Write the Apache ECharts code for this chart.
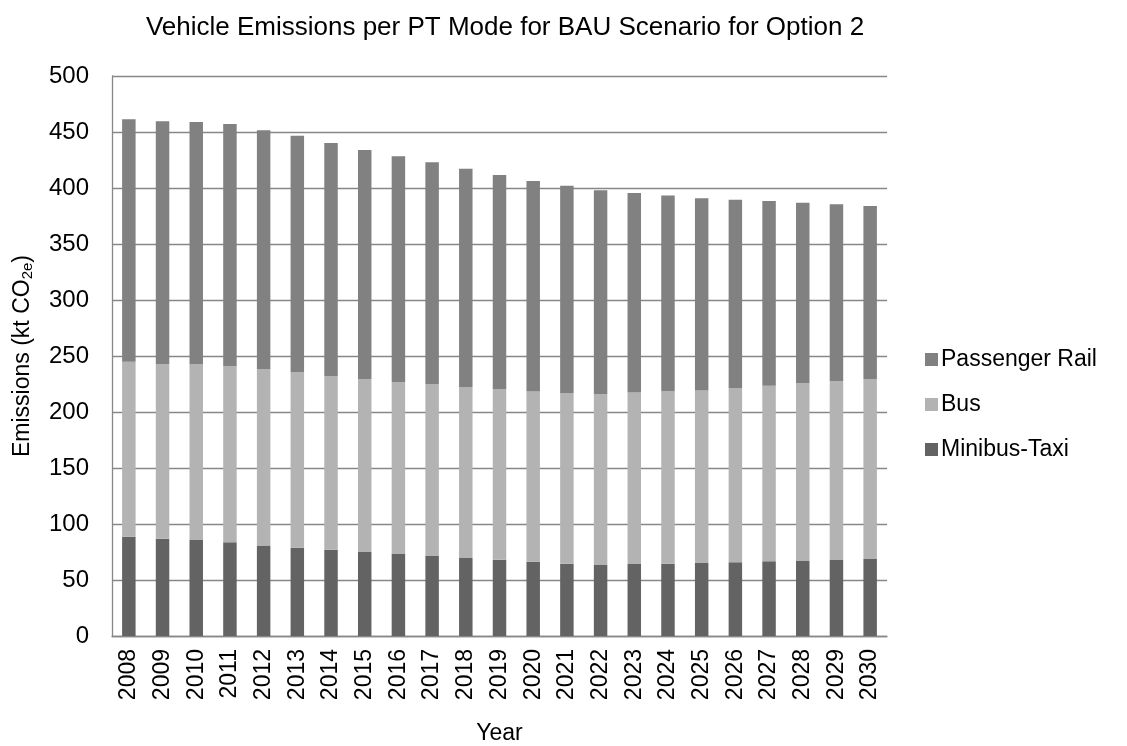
<!DOCTYPE html>
<html>
<head>
<meta charset="utf-8">
<script src="https://cdn.jsdelivr.net/npm/echarts@6/dist/echarts.min.js"></script>
<style>
  html, body { margin: 0; padding: 0; background: #fff; }
  #chart { width: 1127px; height: 746px; }
</style>
</head>
<body>
<div id="chart"></div>
<script>
  const years = ['2008', '2009', '2010', '2011', '2012', '2013', '2014', '2015', '2016', '2017', '2018', '2019',
    '2020', '2021', '2022', '2023', '2024', '2025', '2026', '2027', '2028', '2029', '2030']

  // kt CO2e
  const minibusTaxi = [88.7, 86.9, 85.7, 83.6, 80.7, 78.9, 77.1, 75.0, 73.2, 71.4, 69.6, 68.0,
    66.4, 64.6, 63.4, 64.3, 64.6, 65.2, 65.8, 66.7, 67.0, 67.9, 68.8]
  const bus = [156.2, 156.0, 156.9, 157.2, 157.7, 156.5, 155.0, 154.2, 153.6, 153.6, 152.7, 152.5,
    151.8, 152.4, 152.7, 153.0, 154.2, 154.1, 155.6, 156.8, 158.6, 159.5, 160.7]
  const passengerRail = [216.4, 216.6, 216.3, 216.3, 213.1, 211.3, 208.1, 204.7, 201.5, 197.9, 194.9, 191.1,
    188.1, 185.1, 181.8, 178.2, 174.4, 171.5, 168.2, 164.9, 161.3, 158.1, 154.4]

  const yTicks = { min: 0, max: 500, interval: 50 }

  const font = 'Liberation Sans, Arial, sans-serif'

  const chart = echarts.init(document.getElementById('chart'))

  chart.setOption({
    animation: false,
    textStyle: { fontFamily: font, color: '#000' },
    title: {
      text: 'Vehicle Emissions per PT Mode for BAU Scenario for Option 2',
      left: 500,
      textAlign: 'center',
      top: 10,
      textStyle: { fontFamily: font, fontSize: 26, fontWeight: 'normal', color: '#000' }
    },
    legend: {
      orient: 'vertical',
      left: 920,
      top: 343,
      itemWidth: 13,
      itemHeight: 13,
      itemGap: 22,
      icon: 'rect',
      data: ['Passenger Rail', 'Bus', 'Minibus-Taxi'],
      textStyle: { fontFamily: font, fontSize: 23, color: '#000', padding: [0, 0, 0, -2] }
    },
    grid: {
      left: 112,
      right: 240,
      top: 76,
      bottom: 110,
      outerBoundsMode: 'none'
    },
    xAxis: {
      type: 'category',
      data: years,
      name: 'Year',
      nameLocation: 'middle',
      nameGap: 86,
      nameTextStyle: { fontFamily: font, fontSize: 23, color: '#000' },
      axisLine: { lineStyle: { color: '#878787', width: 1.3 } },
      axisTick: { show: false },
      axisLabel: { rotate: 90, fontSize: 23, color: '#000', margin: 13, fontFamily: font }
    },
    yAxis: {
      type: 'value',
      min: yTicks.min,
      max: yTicks.max,
      interval: yTicks.interval,
      name: 'Emissions (kt CO{sub|2e})',
      nameLocation: 'middle',
      nameGap: 77,
      nameTextStyle: {
        fontFamily: font,
        fontSize: 23,
        color: '#000',
        rich: {
          sub: { fontSize: 15, fontFamily: font, color: '#000', verticalAlign: 'bottom', padding: [9, 0, 0, 0] }
        }
      },
      axisLine: { show: true, lineStyle: { color: '#878787', width: 1.3 } },
      axisTick: { show: false },
      axisLabel: { fontSize: 24, color: '#000', margin: 23, fontFamily: font },
      splitLine: { lineStyle: { color: '#878787', width: 1.3 } }
    },
    series: [
      {
        name: 'Minibus-Taxi',
        type: 'bar',
        stack: 'total',
        barWidth: '40%',
        itemStyle: { color: '#636363' },
        data: minibusTaxi
      },
      {
        name: 'Bus',
        type: 'bar',
        stack: 'total',
        barWidth: '40%',
        itemStyle: { color: '#b3b3b3' },
        data: bus
      },
      {
        name: 'Passenger Rail',
        type: 'bar',
        stack: 'total',
        barWidth: '40%',
        itemStyle: { color: '#818181' },
        data: passengerRail
      }
    ]
  })
</script>
</body>
</html>
